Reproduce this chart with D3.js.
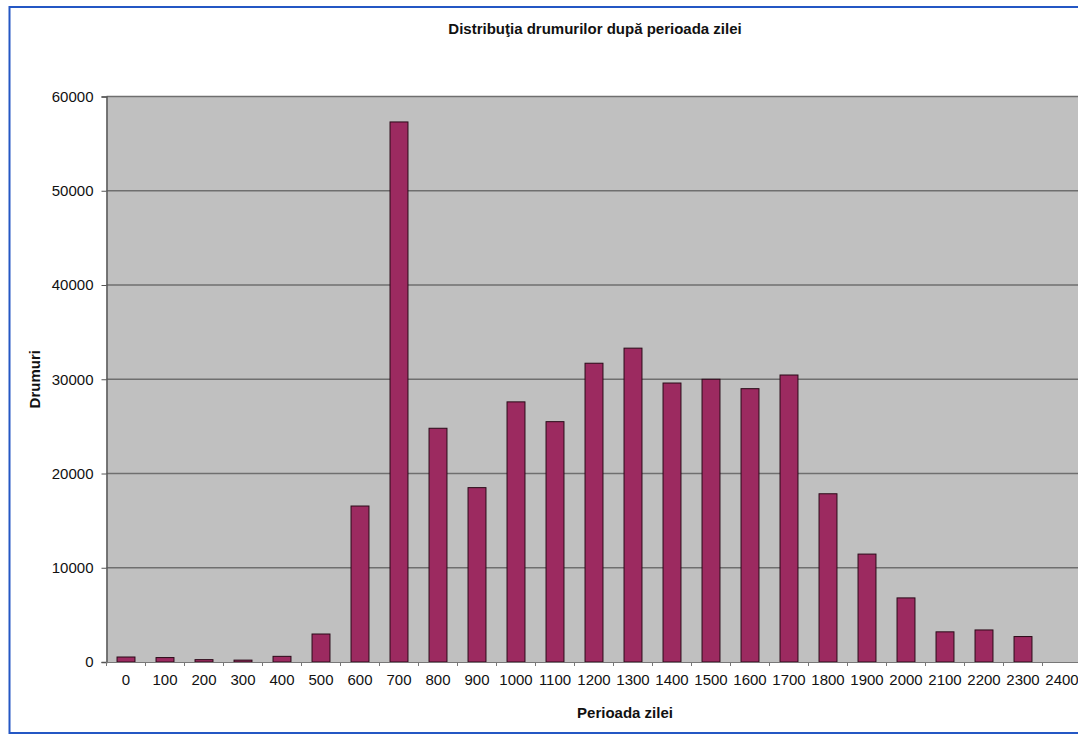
<!DOCTYPE html>
<html>
<head>
<meta charset="utf-8">
<script src="https://cdn.jsdelivr.net/npm/d3@7"></script>
<style>
  html, body { margin: 0; padding: 0; background: #ffffff; }
  svg { display: block; }
  text { font-family: "Liberation Sans", Arial, sans-serif; fill: #111; }
</style>
</head>
<body>
<script>
// Number of trips by hour of day
const hours = ["0","100","200","300","400","500","600","700","800","900","1000","1100",
               "1200","1300","1400","1500","1600","1700","1800","1900","2000","2100","2200","2300","2400"];
const trips = [530, 470, 250, 200, 600, 2970, 16550, 57300, 24800, 18500, 27600, 25500,
               31700, 33300, 29600, 30000, 29000, 30450, 17850, 11450, 6800, 3200, 3400, 2700, 0];
const yTicks = [0, 10000, 20000, 30000, 40000, 50000, 60000];

const chartTitle = "Distribuţia drumurilor după perioada zilei";
const xTitle = "Perioada zilei";
const yTitle = "Drumuri";

const W = 1078, H = 736;
const plot = { left: 106.5, top: 96.5, bottom: 662, step: 39 };
plot.right = plot.left + plot.step * hours.length;

const svg = d3.select("body").append("svg").attr("width", W).attr("height", H);

// chart area frame
svg.append("rect")
  .attr("x", 9.5).attr("y", 7).attr("width", W + 20).attr("height", 726)
  .attr("fill", "#ffffff").attr("stroke", "#2457c4").attr("stroke-width", 2);

const x = d3.scaleBand().domain(hours)
  .range([plot.left, plot.right])
  .paddingInner(0.54).paddingOuter(0.27);

const y = d3.scaleLinear().domain([0, 60000]).range([plot.bottom, plot.top]);

// plot background
svg.append("rect")
  .attr("x", plot.left).attr("y", plot.top)
  .attr("width", plot.right - plot.left).attr("height", plot.bottom - plot.top)
  .attr("fill", "#c0c0c0");

// horizontal gridlines
svg.append("g").selectAll("line").data(yTicks.filter(d => d > 0)).join("line")
  .attr("x1", plot.left).attr("x2", plot.right)
  .attr("y1", d => y(d)).attr("y2", d => y(d))
  .attr("stroke", "#6f6f6f").attr("stroke-width", 1.5);

// bars
svg.append("g").selectAll("rect").data(trips).join("rect")
  .attr("x", (d, i) => x(hours[i]))
  .attr("y", d => y(d))
  .attr("width", x.bandwidth())
  .attr("height", d => plot.bottom - y(d))
  .attr("fill", "#9c2a60")
  .attr("stroke", "#2a0a18").attr("stroke-width", 1)
  .attr("display", d => d > 0 ? null : "none");

// y axis
const yAxis = d3.axisLeft(y).tickValues(yTicks).tickSize(5).tickPadding(8).tickFormat(d3.format("d"));
const gy = svg.append("g").attr("transform", `translate(${plot.left},0)`).call(yAxis);
gy.select(".domain").attr("stroke", "#555").attr("stroke-width", 1.5);
gy.selectAll(".tick line").attr("stroke", "#555");
gy.selectAll(".tick text").attr("font-size", 15).attr("fill", "#222")
  .attr("font-family", "'Liberation Sans', Arial, sans-serif");

// x axis: labels centred under each category, ticks between categories
const xAxis = d3.axisBottom(x).tickSize(0).tickPadding(12);
const gx = svg.append("g").attr("transform", `translate(0,${plot.bottom})`).call(xAxis);
gx.select(".domain").attr("stroke", "#777").attr("stroke-width", 1);
gx.selectAll(".tick text").attr("font-size", 15).attr("fill", "#222")
  .attr("font-family", "'Liberation Sans', Arial, sans-serif");
svg.append("g").selectAll("line").data(hours).join("line")
  .attr("x1", d => x(d) - x.step() * x.paddingInner() / 2)
  .attr("x2", d => x(d) - x.step() * x.paddingInner() / 2)
  .attr("y1", plot.bottom).attr("y2", plot.bottom + 4)
  .attr("stroke", "#777");

// titles
svg.append("text").attr("x", 595).attr("y", 34)
  .attr("text-anchor", "middle").attr("font-size", 15).attr("font-weight", "bold")
  .text(chartTitle);

svg.append("text").attr("x", 625).attr("y", 718)
  .attr("text-anchor", "middle").attr("font-size", 15).attr("font-weight", "bold")
  .text(xTitle);

svg.append("text")
  .attr("transform", `translate(40,${(plot.top + plot.bottom) / 2}) rotate(-90)`)
  .attr("text-anchor", "middle").attr("font-size", 15).attr("font-weight", "bold")
  .text(yTitle);
</script>
</body>
</html>
